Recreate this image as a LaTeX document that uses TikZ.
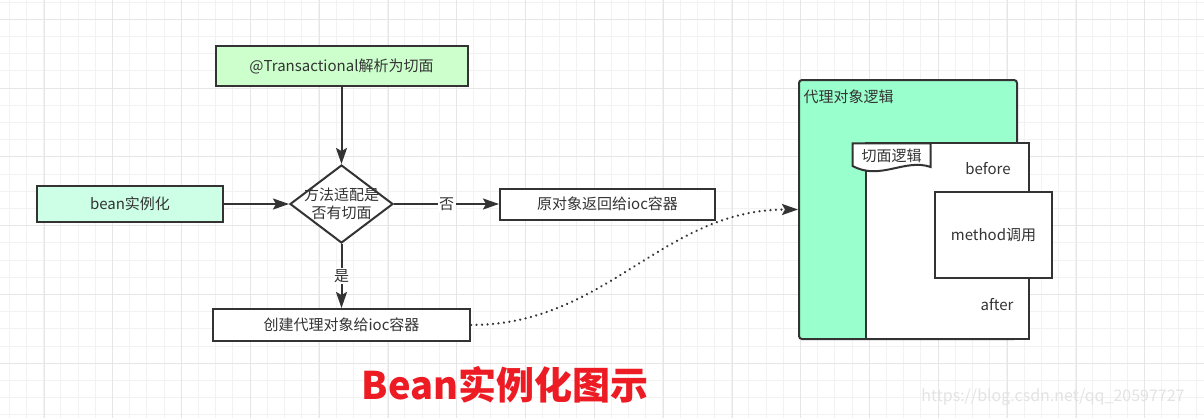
\documentclass[tikz,border=0pt]{standalone}
\usepackage{fontspec}
\setmainfont{Noto Sans CJK SC}
\usetikzlibrary{shapes.geometric,arrows.meta}

\definecolor{linegray}{HTML}{333333}
\definecolor{boxgreen}{HTML}{CCFFCC}
\definecolor{boxmint}{HTML}{CCFFE6}
\definecolor{proxygreen}{HTML}{99FFCC}
\definecolor{titlered}{HTML}{ED1C24}
\definecolor{gridminor}{HTML}{F2F2F2}
\definecolor{gridmajor}{HTML}{E6E6E6}

\tikzset{
  flowbox/.style={draw=linegray, line width=2pt, text=linegray,
    font=\fontsize{15}{18}\selectfont, inner sep=0pt},
  plaintext/.style={text=linegray, font=\fontsize{15}{18}\selectfont, inner sep=0pt},
  flowarrow/.style={draw=linegray, line width=2pt,
    -{Stealth[length=16pt,width=11pt,inset=3pt]}},
}

\begin{document}
\begin{tikzpicture}[x=1pt,y=-1pt]

      \useasboundingbox (0,0) rectangle (1204,418);
      \fill[white] (0,0) rectangle (1204,418);

      % grid
      \foreach \i in {0,...,69}
        \draw[gridminor, line width=1pt] (9.3+17.2*\i,0) -- (9.3+17.2*\i,418);
      \foreach \j in {0,...,24}
        \draw[gridminor, line width=1pt] (0,2.1+17.2*\j) -- (1204,2.1+17.2*\j);
      \foreach \i in {0,...,17}
        \draw[gridmajor, line width=1pt] (44+68.8*\i,0) -- (44+68.8*\i,418);
      \foreach \j in {0,...,6}
        \draw[gridmajor, line width=1pt] (0,19.3+68.8*\j) -- (1204,19.3+68.8*\j);

      \begin{scope}[every node/.style={flowbox}]
        \node[fill=boxgreen, minimum width=252pt, minimum height=40pt] (trans) at (341.5,66) {@Transactional解析为切面};
        \node[fill=boxmint, minimum width=186pt, minimum height=36pt] (bean) at (130,204) {bean实例化};
        \node[diamond, fill=white, minimum width=103pt, minimum height=78pt] (match) at (341.5,204) {};
        \node[fill=white, minimum width=215pt, minimum height=31pt] (orig) at (607.5,204) {原对象返回给ioc容器};
        \node[fill=white, minimum width=257pt, minimum height=32pt] (create) at (341.5,325) {创建代理对象给ioc容器};
      \end{scope}
      \node[plaintext, align=center] (matchtext) at (match.center) {方法适配是\\否有切面};

      \begin{scope}[every node/.style={fill=white, text=linegray, font=\fontsize{15}{18}\selectfont, inner sep=1.5pt}]
        \begin{scope}[every edge/.style={flowarrow}]
          \path (trans) edge (match);
          \path (bean)  edge (match);
          \path (match) edge node {否} (orig);
          \path (match) edge node {是} (create);
        \end{scope}
      \end{scope}

      % proxy object
      \node[draw=linegray, line width=2pt, fill=proxygreen, rounded corners=3pt,
        minimum width=218pt, minimum height=259pt] (proxy) at (908,209.5) {};
      \node[plaintext, anchor=west] (proxylabel) at (803.5,97) {代理对象逻辑};
      \node[flowbox, fill=white, minimum width=163pt, minimum height=196pt] (aspect) at (947.5,241) {};
      \draw[linegray, line width=2pt, fill=white] (852.7,143.3) -- (930.7,143.3) -- (930.7,167)
        .. controls (905,158) and (880,181) .. (852.7,166) -- cycle;
      \node[plaintext] (tablabel) at (891.5,156) {切面逻辑};
      \node[plaintext] (before) at (988,169) {before};
      \node[flowbox, fill=white, minimum width=117pt, minimum height=86pt] (method) at (993.5,235) {method调用};
      \node[plaintext] (after) at (997,305) {after};

      \draw[linegray, line width=2.5pt, line cap=round, dash pattern=on 0.01pt off 5.5pt,
        -{Stealth[length=16pt,width=11pt,inset=3pt]}] (create) to[out=0,in=180] (proxy);

      \node[text=titlered, font=\fontsize{38}{44}\selectfont\bfseries, inner sep=0pt] (title) at (505,385) {Bean实例化图示};
      \node[text=black!11, font=\fontsize{16}{18}\selectfont, inner sep=0pt] (mark) at (1053,397) {https://blog.csdn.net/qq\_20597727};

    \end{tikzpicture}
\end{document}
